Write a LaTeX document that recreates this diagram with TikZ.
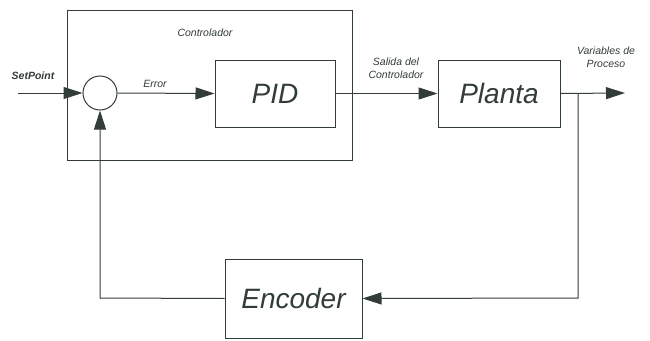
\documentclass[tikz,border=0pt]{standalone}
\usepackage{fontspec}
\setmainfont{Liberation Sans}
\usetikzlibrary{arrows.meta}
\definecolor{ink}{RGB}{50,60,56}
\begin{document}
\begin{tikzpicture}[x=1pt,y=-1pt,
  line width=0.9pt, draw=ink, text=ink,
  blk/.style={draw=ink, line width=1pt, rectangle, inner sep=0pt},
  big/.style={font=\fontsize{28}{30}\selectfont\itshape},
  lbl/.style={font=\fontsize{10.5}{13}\selectfont\itshape, align=center, inner sep=0pt},
  arr/.style={-{Triangle[length=19pt,width=12pt]}, draw=ink, line width=1pt}]
\useasboundingbox (0,0) rectangle (650,340);
\node[blk, minimum width=285, minimum height=150] (ctrl) at (209.5,85) {};
\node[draw=ink, line width=1pt, circle, minimum size=34, inner sep=0pt] (sum) at (100,93) {};
\node[blk, big, minimum width=120, minimum height=67] (pid) at (275,93.5) {PID};
\node[blk, big, minimum width=122, minimum height=67] (planta) at (499,93.5) {Planta};
\node[blk, big, minimum width=137, minimum height=79] (enc) at (293.5,298.5) {Encoder};
\coordinate (in) at (18,93);
\coordinate (out) at (625,93);
\coordinate (br) at (578,93);
\coordinate (brd) at (578,298);
\coordinate (lb) at (100,298);
\draw[arr] (in) -- (sum.west);
\draw[arr] (sum.east) -- (pid.west);
\draw[arr] (pid.east) -- (planta.west);
\draw[arr] (planta.east) -- (out);
\draw[arr] (br) -- (brd) -- (enc.east);
\draw[arr] (enc.west) -- (lb) -- (sum.south);
\node[lbl, font=\fontsize{10.5}{13}\selectfont\itshape\bfseries] (sp) at (33,76) {SetPoint};
\node[lbl] (ct) at (205,33) {Controlador};
\node[lbl] (er) at (155,84) {Error};
\node[lbl] (sal) at (396,68) {Salida del\\Controlador};
\node[lbl] (var) at (606,57) {Variables de\\Proceso};
\end{tikzpicture}
\end{document}
